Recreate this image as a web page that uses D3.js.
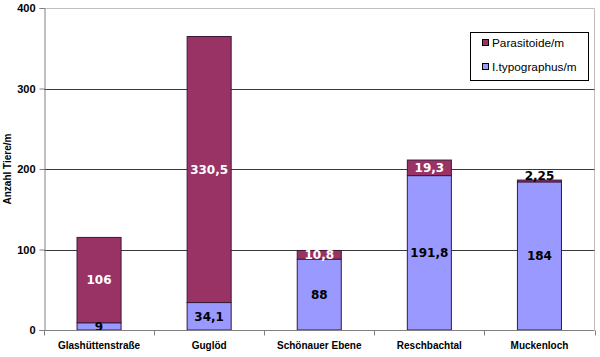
<!DOCTYPE html>
<html><head><meta charset="utf-8">
<script src="https://cdn.jsdelivr.net/npm/d3@7"></script>
<style>body{margin:0;background:#fff}</style>
</head><body>
<script>
const categories = ["Glashüttenstraße","Guglöd","Schönauer Ebene","Reschbachtal","Muckenloch"];
const typographus = [9, 34.1, 88, 191.8, 184];
const parasitoide = [106, 330.5, 10.8, 19.3, 2.25];
const typLabels = ["9","34,1","88","191,8","184"];
const parLabels = ["106","330,5","10,8","19,3","2,25"];
const yTicks = [0,100,200,300,400];
const seriesNames = ["Parasitoide/m","I.typographus/m"];
const colors = {par:"#993366", typ:"#9999ff"};

const W=600,H=357;
const svg=d3.select("body").append("svg").attr("width",W).attr("height",H);
const L=44,R=594.5,T=8,B=330;
const x=d3.scaleBand().domain(categories).range([L,R]).paddingInner(0.6).paddingOuter(0.3);
const y=d3.scaleLinear().domain([0,400]).range([B,T]);

// plot border (light)
svg.append("path").attr("d",`M${L},${T+0.5}H${R}V${B}`).attr("fill","none").attr("stroke","#c0c0c0");
// gridlines
svg.append("g").selectAll("line").data(yTicks.filter(d=>d>0&&d<400)).join("line")
  .attr("x1",L).attr("x2",R).attr("y1",d=>Math.round(y(d))+0.5).attr("y2",d=>Math.round(y(d))+0.5)
  .attr("stroke","#3a3a3a");

// y axis
const ya=svg.append("g").attr("transform",`translate(${L+0.5},0)`)
  .call(d3.axisLeft(y).tickValues(yTicks).tickSize(5).tickPadding(4).tickFormat(d3.format("d")));
ya.select(".domain").attr("stroke","#808080");
ya.selectAll(".tick line").attr("stroke","#808080");
ya.selectAll("text").attr("font-family","Liberation Sans, Arial").attr("font-weight","bold").attr("font-size",11).attr("fill","#000");

// bars
const g=svg.append("g");
categories.forEach((c,i)=>{
  const x0=x(c), bw=x.bandwidth();
  g.append("rect").attr("x",x0).attr("width",bw)
    .attr("y",y(typographus[i])).attr("height",y(0)-y(typographus[i]))
    .attr("fill",colors.typ).attr("stroke","#3a1a3a").attr("stroke-width",1);
  const top=typographus[i]+parasitoide[i];
  g.append("rect").attr("x",x0).attr("width",bw)
    .attr("y",y(top)).attr("height",y(typographus[i])-y(top))
    .attr("fill",colors.par).attr("stroke","#3a1a3a").attr("stroke-width",1);
});

// x axis
const xa=svg.append("g").attr("transform",`translate(0,${B+0.5})`);
xa.append("line").attr("x1",L).attr("x2",R).attr("stroke","#808080");
const bounds=categories.map((c,i)=>L+i*(R-L)/categories.length).concat([R]);
xa.selectAll("line.t").data(bounds).join("line").attr("class","t")
  .attr("x1",d=>Math.round(d)+0.5).attr("x2",d=>Math.round(d)+0.5).attr("y1",0).attr("y2",5).attr("stroke","#808080");
xa.selectAll("text").data(categories).join("text")
  .attr("x",d=>x(d)+x.bandwidth()/2).attr("y",18).attr("text-anchor","middle")
  .attr("font-family","Liberation Sans, Arial").attr("font-weight","bold").attr("font-size",10).text(d=>d);

// y title
svg.append("text").attr("transform",`translate(11,${(T+B)/2}) rotate(-90)`).attr("text-anchor","middle")
  .attr("font-family","Liberation Sans, Arial").attr("font-weight","bold").attr("font-size",10).text("Anzahl Tiere/m");

// data labels
const lf="DejaVu Sans, Verdana";
categories.forEach((c,i)=>{
  const cx=x(c)+x.bandwidth()/2;
  g.append("text").attr("x",cx).attr("y",y(typographus[i]/2)).attr("dy","0.36em")
    .attr("text-anchor","middle").attr("font-family",lf).attr("font-weight","bold").attr("font-size",12)
    .attr("fill","#000").text(typLabels[i]);
  const small = parasitoide[i] < 5;
  const py = small ? y(typographus[i]+parasitoide[i]) - 4.5 : y(typographus[i]+parasitoide[i]/2);
  g.append("text").attr("x",cx).attr("y",py).attr("dy","0.36em")
    .attr("text-anchor","middle").attr("font-family",lf).attr("font-weight","bold").attr("font-size",12)
    .attr("fill", small ? "#000" : "#fff").text(parLabels[i]);
});

// legend
const lg=svg.append("g");
lg.append("rect").attr("x",470.5).attr("y",32.5).attr("width",118).attr("height",48).attr("fill","#fff").attr("stroke","#000");
[[colors.par,43],[colors.typ,67]].forEach(([col,yy],k)=>{
  lg.append("rect").attr("x",482.5).attr("y",yy-3.5).attr("width",6).attr("height",6).attr("fill",col).attr("stroke","#000");
  lg.append("text").attr("x",492).attr("y",yy).attr("dy","0.35em").attr("font-family","Liberation Sans, Arial")
    .attr("font-size",11.8).text(seriesNames[k]);
});
</script>
</body></html>
